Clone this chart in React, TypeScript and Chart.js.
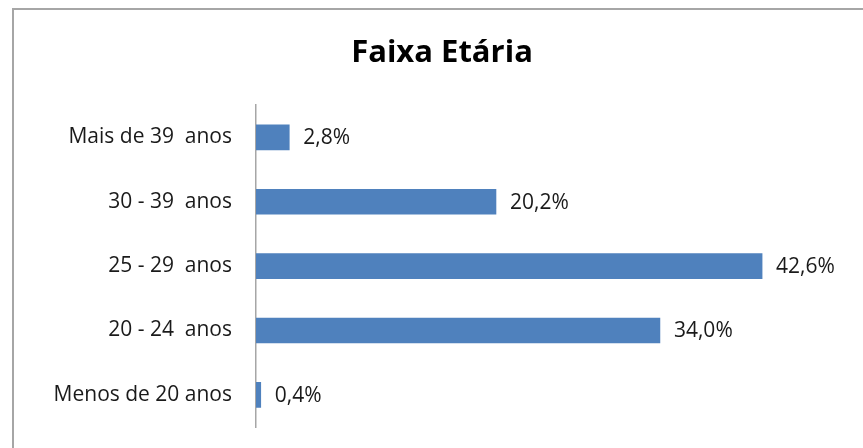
import React, { useEffect, useRef } from "react";
import { Chart, registerables } from "chart.js";

Chart.register(...registerables);

const categories = ["Mais de 39  anos", "30 - 39  anos", "25 - 29  anos", "20 - 24  anos", "Menos de 20 anos"];
const values = [2.8, 20.2, 42.6, 34.0, 0.4];
const valueLabels = ["2,8%", "20,2%", "42,6%", "34,0%", "0,4%"];
const title = "Faixa Etária";

const FONT = "'Open Sans', 'Noto Sans', sans-serif";

const labelPlugin = {
  id: "barLabels",
  afterDatasetsDraw(chart: any) {
    const ctx = chart.ctx;
    const meta = chart.getDatasetMeta(0);
    ctx.save();
    ctx.font = `21px ${FONT}`;
    ctx.fillStyle = "#1a1a1a";
    ctx.textAlign = "left";
    ctx.textBaseline = "middle";
    meta.data.forEach((bar: any, i: number) => {
      ctx.fillText(valueLabels[i], bar.x + 14, bar.y + 1);
    });
    ctx.restore();
  },
};

export default function App() {
  const ref = useRef<HTMLCanvasElement | null>(null);
  useEffect(() => {
    if (!ref.current) return;
    const chart = new Chart(ref.current, {
      type: "bar",
      data: {
        labels: categories,
        datasets: [
          {
            data: values,
            backgroundColor: "#4f81bd",
            borderWidth: 0,
            barThickness: 25,
          },
        ],
      },
      options: {
        indexAxis: "y",
        animation: false,
        responsive: false,
        maintainAspectRatio: false,
        layout: { padding: { left: 34, right: 13, top: 0, bottom: 21 } },
        plugins: {
          legend: { display: false },
          tooltip: { enabled: false },
          title: {
            display: true,
            text: title,
            color: "#000000",
            font: { family: FONT, size: 31, weight: "bold" },
            padding: { top: 35, bottom: 33 },
          },
        },
        scales: {
          x: { display: false, min: 0, max: 50 },
          y: {
            grid: { display: false, drawTicks: false },
            border: { display: true, color: "#a6a6a6", width: 1.5 },
            ticks: {
              color: "#1a1a1a",
              padding: 24,
              font: { family: FONT, size: 21 },
            },
            afterFit(scale: any) {
              scale.width = 222;
              scale.paddingTop = 0;
              scale.paddingBottom = 0;
            },
          },
        },
      },
      plugins: [labelPlugin],
    });
    return () => chart.destroy();
  }, []);
  return (
    <div style={{ position: "fixed", left: 0, top: 0, width: 863, height: 448, background: "#fff", overflow: "hidden" }}>
      <div
        style={{
          position: "absolute",
          left: 12,
          top: 8,
          width: 900,
          height: 500,
          borderLeft: "2px solid #a6a6a6",
          borderTop: "2px solid #a6a6a6",
        }}
      />
      <canvas ref={ref} width={863} height={448} style={{ position: "absolute", left: 0, top: 0 }} />
    </div>
  );
}
